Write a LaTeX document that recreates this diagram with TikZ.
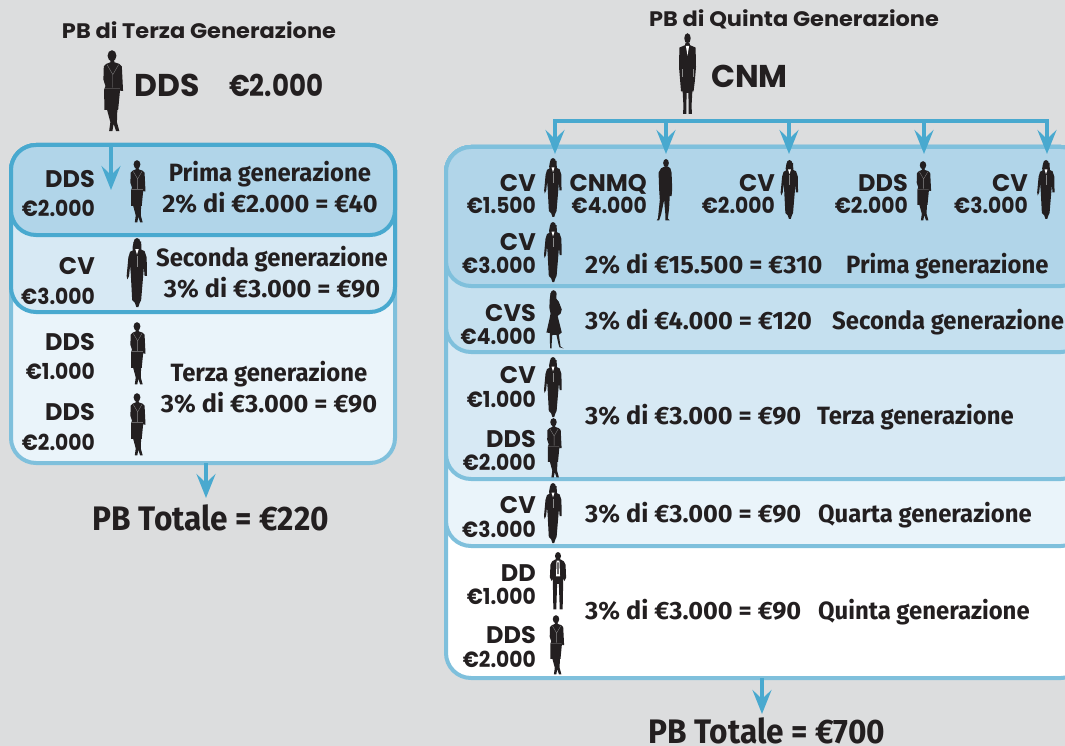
\documentclass[tikz,border=0pt]{standalone}
\usepackage{fontspec}
\usetikzlibrary{arrows.meta}
\newfontfamily\titlefont[FakeStretch=1.07]{Poppins}
\newfontfamily\headfont{Poppins}
\newfontfamily\amtfont[FakeStretch=0.92]{Poppins}
\newfontfamily\bigamtfont[FakeStretch=0.87]{Poppins}
\newfontfamily\wordfont[FakeStretch=0.955]{Fira Sans}
\newfontfamily\sumfont[FakeStretch=1.012]{Fira Sans}
\newfontfamily\totfont[FakeStretch=0.93]{Fira Sans}
\definecolor{bg}{HTML}{DCDDDE}
\definecolor{ink}{HTML}{231F20}
\definecolor{strongblue}{HTML}{49A9CF}
\definecolor{softblue}{HTML}{7FC0DC}
\definecolor{fa}{HTML}{B1D5E9}
\definecolor{fb}{HTML}{C5E0EF}
\definecolor{fc}{HTML}{D7E9F4}
\definecolor{fd}{HTML}{EAF4FA}
\tikzset{
  panelbox/.style={draw,line width=4pt,rounded corners=25pt,inner sep=0pt,outer sep=0pt},
  arr/.style={draw=strongblue,line width=4pt,-{Stealth[length=24pt,width=19pt,inset=9pt]}},
  bus/.style={draw=strongblue,line width=4pt,line cap=rect},
  namelab/.style={anchor=base east,inner sep=0pt,text=ink,font=\headfont\bfseries\fontsize{24}{24}\selectfont},
  amtlab/.style={anchor=base east,inner sep=0pt,text=ink,font=\amtfont\bfseries\fontsize{22}{22}\selectfont},
  wordc/.style={anchor=base,inner sep=0pt,text=ink,font=\wordfont\bfseries\fontsize{25}{25}\selectfont},
  sumc/.style={anchor=base,inner sep=0pt,text=ink,font=\sumfont\bfseries\fontsize{25}{25}\selectfont},
  wordw/.style={anchor=base west,inner sep=0pt,text=ink,font=\wordfont\bfseries\fontsize{25}{25}\selectfont},
  sumw/.style={anchor=base west,inner sep=0pt,text=ink,font=\sumfont\bfseries\fontsize{25}{25}\selectfont},
  title/.style={anchor=base,inner sep=0pt,text=ink,font=\titlefont\bfseries\fontsize{21}{21}\selectfont},
  big/.style={anchor=base west,inner sep=0pt,text=ink,font=\headfont\bfseries\fontsize{31.5}{31.5}\selectfont},
  bigamt/.style={anchor=base west,inner sep=0pt,text=ink,font=\bigamtfont\bfseries\fontsize{30}{30}\selectfont},
  total/.style={anchor=base,inner sep=0pt,text=ink,font=\totfont\bfseries\fontsize{34}{34}\selectfont},
  detail/.style={draw=black!45,line width=.3pt},
  ddsfig/.pic={
    \fill[ink] (0,7) ellipse (5.4 and 6.8);
    \fill[ink] (-2,12)--(2.5,12)--(3,15)--(9,17)--(12,20)--(13.5,50)--(10.5,50)--(10,47)--(7.5,73)--(6.5,73)--(6,88)--(9,99)--(5,99)--(2,90)--(0.5,99)--(-3.5,99)--(-2,88)--(-6,73)--(-9.4,73)--(-9.5,48)--(-8,44)--(-10.5,36)--(-10,20)--(-7,17)--(-2,15)--cycle;
    \draw[detail] (-6,18)--(1,30)--(8,18) (1,30)--(1,46) (-9,47)--(9.5,47);
  },
  cvfig/.pic={
    \fill[ink] (0,6.5) ellipse (5 and 6.5);
    \fill[ink] (-5,6)--(-6.5,14)--(-6,18)--(-10,20)--(-12.5,28)--(-15,55)--(-14,60)--(-11.5,55)--(-10,40)--(-9,52)--(-7,90)--(-3,94)--(-1,100)--(2,100)--(4,94)--(6,90)--(9,54)--(10,42)--(11,55)--(14.5,55)--(14,28)--(11,19)--(6.5,17)--(6,5)--cycle;
    \draw[detail] (0,26)--(0,42);
    \fill[white] (-2.5,16)--(0,24)--(2.5,16)--cycle;
  },
  cnmfig/.pic={
    \fill[ink] (0,6.5) ellipse (4 and 6.2);
    \fill[ink] (-2.5,12)--(2.5,12)--(3,15)--(10,18)--(10.5,42)--(9,60)--(7.5,72)--(6,72)--(5,90)--(5.5,100)--(1.5,100)--(1.5,90)--(1,74)--(-1,74)--(-1.5,90)--(-1.5,100)--(-5.5,100)--(-5,90)--(-6,72)--(-8,72)--(-9,60)--(-10.5,42)--(-10,18)--(-3,15)--cycle;
    \fill[white] (-2,16)--(0,28)--(2,16)--cycle;
    \draw[detail] (-7,45)--(-7,54) (7,45)--(7,54);
  },
  manfig/.pic={
    \fill[ink] (0,6.5) ellipse (4.6 and 6.5);
    \fill[ink] (-2,12)--(3,12)--(7,15)--(9,22)--(10,48)--(9,60)--(6,60)--(5,80)--(3,96)--(6,99)--(-1,99)--(-1,90)--(-3,66)--(-8,90)--(-11,99)--(-15,99)--(-13,96)--(-10,66)--(-11,50)--(-12,22)--(-8,15)--cycle;
  },
  ddfig/.pic={
    \fill[ink] (0,6.8) ellipse (5.2 and 6.8);
    \fill[ink] (-3,12)--(3,12)--(10,16)--(13,22)--(14,44)--(11,50)--(9,46)--(8,99)--(3,99)--(1.5,55)--(-1.5,55)--(-3,99)--(-8,99)--(-9,46)--(-11,50)--(-14,44)--(-13,22)--(-10,16)--cycle;
    \fill[white] (-2.5,15)--(2.5,15)--(3.5,42)--(-3.5,42)--cycle;
    \fill[ink] (-.9,18)--(.9,18)--(1.1,38)--(-1.1,38)--cycle;
  },
  cvsfig/.pic={
    \fill[ink] (0,7) ellipse (5 and 6.8);
    \fill[ink] (-5,5)--(-6.5,17)--(-7,30)--(-5,40)--(-7,50)--(-12,72)--(-6,73)--(-6,90)--(-5.5,99)--(-3,99)--(-3,90)--(-2,76)--(5,76)--(8,90)--(10,97)--(17,99)--(12,96)--(9,76)--(14,72)--(9,52)--(7,44)--(12,40)--(14,33)--(9,20)--(5,15)--(5,4)--cycle;
  },
}
\newcommand{\lab}[6]{%
  \node[namelab] (#1n) at (#2,#3) {#5};
  \node[amtlab] (#1a) at (#2,#4) {#6};}
\begin{document}
\begin{tikzpicture}[x=1pt,y=-1pt]
\useasboundingbox (0,0) rectangle (1065,746);
\fill[bg] (0,0) rectangle (1065,746);

% left panels
\node[panelbox,draw=softblue,fill=fd,minimum width=384pt,minimum height=318pt] (lp3) at (203,304) {};
\node[panelbox,draw=strongblue,fill=fc,minimum width=384pt,minimum height=167pt] (lp2) at (203,228.5) {};
\node[panelbox,draw=strongblue,fill=fa,minimum width=384pt,minimum height=90pt] (lp1) at (203,190) {};

% right panels
\node[panelbox,draw=softblue,fill=white,minimum width=640pt,minimum height=531pt] (rp5) at (766,412.5) {};
\node[panelbox,draw=softblue,fill=fd,minimum width=640pt,minimum height=399pt] (rp4) at (766,346.5) {};
\node[panelbox,draw=softblue,fill=fc,minimum width=640pt,minimum height=332pt] (rp3) at (766,313) {};
\node[panelbox,draw=softblue,fill=fb,minimum width=640pt,minimum height=205pt] (rp2) at (766,249.5) {};
\node[panelbox,draw=softblue,fill=fa,minimum width=640pt,minimum height=139pt] (rp1) at (766,216.5) {};

% titles
\node[title] (t1) at (199,39) {PB di Terza Generazione};
\node[title] (t2) at (794,27) {PB di Quinta Generazione};
\node[big] (dds) at (134,97) {DDS};
\node[bigamt] (ddsv) at (229,97) {€2.000};
\node[big] (cnm) at (711,88) {CNM};

% top figures
\pic[scale=.82] at (112,50) {ddsfig};
\pic[scale=.81] at (687.5,33) {cnmfig};

% connectors
\coordinate (lt) at (111,190);
\draw[arr] (lp1.north -| lt) -- (lt);
\coordinate (la) at (206,498);
\draw[arr] (lp3.south -| la) -- (la);
\coordinate (ra) at (762,714);
\draw[arr] (rp5.south -| ra) -- (ra);
\coordinate (busl) at (555,121);
\coordinate (busr) at (1047,121);
\draw[bus] (busl) -- (busr);
\coordinate (d1) at (555,154);
\coordinate (d2) at (666,154);
\coordinate (d3) at (789,154);
\coordinate (d4) at (924,154);
\coordinate (d5) at (1047,154);
\foreach \d in {d1,d2,d3,d4,d5}{\draw[arr] (busl -| \d) -- (\d);}

% left labels
\lab{la}{95}{188}{217}{DDS}{€2.000}
\lab{lb}{95}{274}{304}{CV}{€3.000}
\lab{lc}{95}{350}{379}{DDS}{€1.000}
\lab{ld}{95}{420}{450}{DDS}{€2.000}
\pic[scale=.63] at (137,160) {ddsfig};
\pic[scale=.69] at (137,238) {cvfig};
\pic[scale=.63] at (137,322) {ddsfig};
\pic[scale=.63] at (137,393) {ddsfig};
\node[wordc] (l1a) at (270,182) {Prima generazione};
\node[sumc] (l1b) at (270,212) {2\% di €2.000 = €40};
\node[wordc] (l2a) at (272,266) {Seconda generazione};
\node[sumc] (l2b) at (272,297) {3\% di €3.000 = €90};
\node[wordc] (l3a) at (269,381) {Terza generazione};
\node[sumc] (l3b) at (269,412) {3\% di €3.000 = €90};
\node[total] (lt1) at (211,530) {PB Totale = €220};

% right labels
\lab{ra}{536}{192}{214}{CV}{€1.500}
\lab{rb}{647}{192}{214}{CNMQ}{€4.000}
\lab{rc}{775}{192}{214}{CV}{€2.000}
\lab{rd}{908}{192}{214}{DDS}{€2.000}
\lab{re}{1028}{192}{214}{CV}{€3.000}
\lab{rf}{536}{250}{273}{CV}{€3.000}
\lab{rg}{536}{321}{344}{CVS}{€4.000}
\lab{rh}{536}{383}{407}{CV}{€1.000}
\lab{ri}{536}{447}{470}{DDS}{€2.000}
\lab{rj}{536}{513}{537}{CV}{€3.000}
\lab{rk}{536}{581}{604}{DD}{€1.000}
\lab{rl}{536}{643}{667}{DDS}{€2.000}

\pic[scale=.59] at (553,158) {cvfig};
\pic[scale=.62] at (666,159) {manfig};
\pic[scale=.59] at (789.5,160) {cvfig};
\pic[scale=.60] at (923,161) {ddsfig};
\pic[scale=.59] at (1046,160) {cvfig};
\pic[scale=.60] at (553,222) {cvfig};
\pic[scale=.59] at (553.5,290) {cvsfig};
\pic[scale=.60] at (553,357) {cvfig};
\pic[scale=.60] at (553.5,418) {ddsfig};
\pic[scale=.60] at (553,483) {cvfig};
\pic[scale=.58] at (558,552) {ddfig};
\pic[scale=.60] at (556,615) {ddsfig};

\node[sumw] (r1a) at (585,273) {2\% di €15.500 = €310};
\node[wordw] (r1b) at (846,273) {Prima generazione};
\node[sumw] (r2a) at (585,329) {3\% di €4.000 = €120};
\node[wordw] (r2b) at (832,329) {Seconda generazione};
\node[sumw] (r3a) at (585,424) {3\% di €3.000 = €90};
\node[wordw] (r3b) at (817,424) {Terza generazione};
\node[sumw] (r4a) at (585,522) {3\% di €3.000 = €90};
\node[wordw] (r4b) at (818,522) {Quarta generazione};
\node[sumw] (r5a) at (585,619) {3\% di €3.000 = €90};
\node[wordw] (r5b) at (818,619) {Quinta generazione};
\node[total] (rt1) at (767,743) {PB Totale = €700};
\end{tikzpicture}
\end{document}
